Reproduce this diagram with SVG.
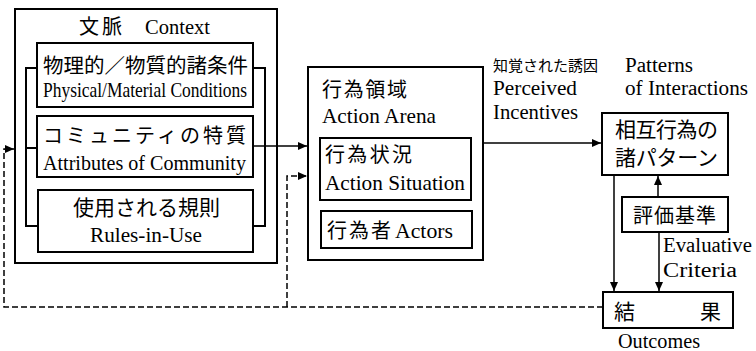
<svg xmlns="http://www.w3.org/2000/svg" width="756" height="351" viewBox="0 0 756 351">
<defs>
<marker id="ah" markerUnits="userSpaceOnUse" markerWidth="10" markerHeight="8" refX="9" refY="4" orient="auto">
<path d="M0,0 L9,4 L0,8 Z" fill="#000"/>
</marker>
<style>
.box{fill:#fff;stroke:#000;stroke-width:2}
.frame{fill:none;stroke:#000;stroke-width:2}
.con{fill:none;stroke:#000;stroke-width:1.5}
.dash{fill:none;stroke:#000;stroke-width:1.5;stroke-dasharray:6 3}
.jp{font-family:"Liberation Serif","Noto Sans CJK JP",serif;fill:#000}
.en{font-family:"Liberation Serif",serif;fill:#000}
</style>
</defs>
<rect width="756" height="351" fill="#fff"/>

<g id="context">
<rect class="frame" x="15" y="9" width="262" height="254"/>
<rect class="frame" x="26" y="68" width="239" height="158"/>
<line class="con" x1="26" y1="148" x2="37" y2="148" style="stroke-width:2"/>
<text class="jp" x="79" y="34" font-size="20" textLength="43">文脈</text>
<text class="en" x="145" y="34" font-size="21" textLength="65" lengthAdjust="spacingAndGlyphs">Context</text>
</g>

<g id="physical">
<rect class="box" x="37" y="43" width="216" height="64"/>
<text class="jp" x="43" y="73" font-size="20" textLength="205" lengthAdjust="spacingAndGlyphs">物理的／物質的諸条件</text>
<text class="en" x="43" y="97" font-size="21" textLength="204" lengthAdjust="spacingAndGlyphs">Physical/Material Conditions</text>
</g>

<g id="community">
<rect class="box" x="37" y="116" width="216" height="61"/>
<text class="jp" x="43" y="143" font-size="20" textLength="203">コミュニティの特質</text>
<text class="en" x="43" y="170" font-size="22" textLength="203" lengthAdjust="spacingAndGlyphs">Attributes of Community</text>
</g>

<g id="rules">
<rect class="box" x="38" y="190" width="215" height="62"/>
<text class="jp" x="73" y="215" font-size="21" textLength="147">使用される規則</text>
<text class="en" x="90" y="242" font-size="22" textLength="112" lengthAdjust="spacingAndGlyphs">Rules-in-Use</text>
</g>

<g id="arena">
<rect class="box" x="308" y="67" width="175" height="193"/>
<text class="jp" x="322" y="97" font-size="20" textLength="85">行為領域</text>
<text class="en" x="322" y="123" font-size="21" textLength="114" lengthAdjust="spacingAndGlyphs">Action Arena</text>
</g>

<g id="situation">
<rect class="box" x="320" y="138" width="151" height="62"/>
<text class="jp" x="325" y="162" font-size="20" textLength="87">行為状況</text>
<text class="en" x="325" y="190" font-size="21" textLength="140" lengthAdjust="spacingAndGlyphs">Action Situation</text>
</g>

<g id="actors">
<rect class="box" x="321" y="211" width="151" height="37"/>
<text class="jp" x="327" y="238" font-size="20" textLength="64">行為者</text>
<text class="en" x="395" y="238" font-size="21" textLength="58" lengthAdjust="spacingAndGlyphs">Actors</text>
</g>

<g id="patterns">
<rect class="box" x="602" y="113" width="126" height="62"/>
<text class="jp" x="615" y="137" font-size="21" textLength="103">相互行為の</text>
<text class="jp" x="615" y="165" font-size="21" textLength="103">諸パターン</text>
</g>

<g id="evaluative">
<rect class="box" x="622" y="197" width="106" height="35"/>
<text class="jp" x="633" y="223" font-size="20" textLength="83">評価基準</text>
</g>

<g id="outcomes">
<rect class="box" x="603" y="292" width="130" height="36"/>
<text class="jp" x="614" y="319" font-size="21">結</text>
<text class="jp" x="700" y="319" font-size="21">果</text>
<text class="en" x="618" y="348" font-size="20" textLength="82" lengthAdjust="spacingAndGlyphs">Outcomes</text>
</g>

<g id="connectors">
<line class="con" x1="253" y1="146" x2="307" y2="146" marker-end="url(#ah)"/>
<line class="con" x1="483" y1="143" x2="601" y2="143" marker-end="url(#ah)"/>
<line class="con" x1="658" y1="197" x2="658" y2="176" marker-end="url(#ah)"/>
<line class="con" x1="659" y1="232" x2="659" y2="291" marker-end="url(#ah)"/>
<line class="con" x1="614" y1="175" x2="614" y2="291" marker-end="url(#ah)"/>
<path class="dash" d="M603,307 L4,307 L4,149 L14,149" marker-end="url(#ah)"/>
<path class="dash" d="M287,307 L287,176 L307,176" marker-end="url(#ah)"/>
</g>

<g id="labels">
<text class="jp" x="493" y="71" font-size="15" textLength="105">知覚された誘因</text>
<text class="en" x="493" y="95" font-size="20" textLength="84" lengthAdjust="spacingAndGlyphs">Perceived</text>
<text class="en" x="493" y="119" font-size="20" textLength="85" lengthAdjust="spacingAndGlyphs">Incentives</text>
<text class="en" x="625" y="72" font-size="20" textLength="68" lengthAdjust="spacingAndGlyphs">Patterns</text>
<text class="en" x="625" y="95" font-size="20" textLength="123" lengthAdjust="spacingAndGlyphs">of Interactions</text>
<text class="en" x="663" y="252" font-size="20" textLength="89" lengthAdjust="spacingAndGlyphs">Evaluative</text>
<text class="en" x="663" y="277" font-size="20" textLength="74" lengthAdjust="spacingAndGlyphs">Criteria</text>
</g>
</svg>
